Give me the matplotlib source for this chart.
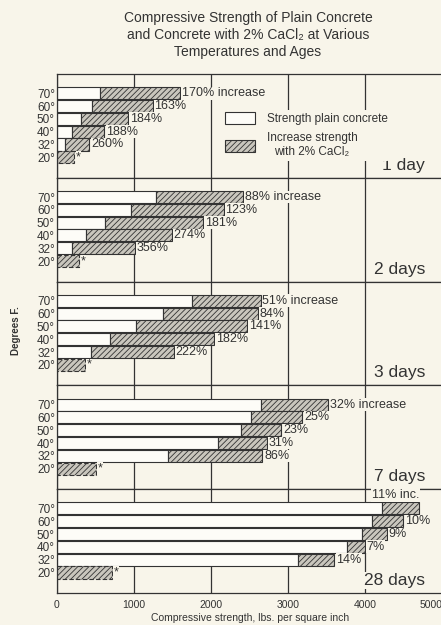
import numpy as np
import matplotlib
matplotlib.use("Agg")
import matplotlib.pyplot as plt
from matplotlib.patches import Patch

plt.rcParams['font.family'] = ['Liberation Sans', 'DejaVu Sans']
plt.rcParams['hatch.linewidth'] = 0.6

# data (lbs per sq inch)
temps = ["70°", "60°", "50°", "40°", "32°", "20°"]
ages = ["1 day", "2 days", "3 days", "7 days", "28 days"]

plain_1 = [560, 450, 310, 200, 105, 0]
total_1 = [1590, 1240, 920, 615, 415, 220]
pct_1 = ["170% increase", "163%", "184%", "188%", "260%", "*"]

plain_2 = [1290, 960, 625, 380, 200, 0]
total_2 = [2410, 2160, 1890, 1490, 1010, 285]
pct_2 = ["88% increase", "123%", "181%", "274%", "356%", "*"]

plain_3 = [1750, 1380, 1025, 690, 440, 0]
total_3 = [2640, 2605, 2460, 2035, 1515, 360]
pct_3 = ["51% increase", "84%", "141%", "182%", "222%", "*"]

plain_7 = [2650, 2520, 2385, 2085, 1435, 0]
total_7 = [3520, 3180, 2905, 2720, 2660, 505]
pct_7 = ["32% increase", "25%", "23%", "31%", "86%", "*"]

plain_28 = [4210, 4080, 3950, 3755, 3125, 0]
total_28 = [4700, 4490, 4275, 3990, 3595, 710]
pct_28 = ["11% inc.", "10%", "9%", "7%", "14%", "*"]

plains = [plain_1, plain_2, plain_3, plain_7, plain_28]
totals = [total_1, total_2, total_3, total_7, total_28]
pcts = [pct_1, pct_2, pct_3, pct_7, pct_28]

bg = '#f8f5ea'
ink = '#333333'
plain_c = '#fdfcf7'
hatch_c = '#c9c6bd'

fig = plt.figure(figsize=(4.41, 6.25), dpi=100, facecolor=bg)
axes = fig.subplots(5, 1, sharex=True, gridspec_kw=dict(hspace=0))
fig.subplots_adjust(left=57 / 441, right=442.5 / 441, top=1 - 74 / 625, bottom=1 - 593 / 625)

y = np.arange(len(temps)) + 1.5
for k, ax in enumerate(axes):
    plain = np.array(plains[k])
    total = np.array(totals[k])
    ax.set_facecolor(bg)
    ax.barh(y, plain, height=0.94, color=plain_c, edgecolor=ink, lw=0.8, zorder=2)
    inc = ax.barh(y, total - plain, left=plain, height=0.94, color=hatch_c,
                  edgecolor=ink, lw=0.8, hatch='//////', zorder=2)
    inc.patches[-1].set_linestyle((0, (4, 2)))

    for i, lab in enumerate(pcts[k]):
        if k == 4 and i == 0:
            ax.text(total[i], y[i] - 1.05, lab, ha='right', va='center', fontsize=9,
                    color=ink, zorder=3, bbox=dict(fc=bg, ec='none', pad=0.5))
        else:
            ax.text(total[i] + 25, y[i], lab, ha='left', va='center', fontsize=9,
                    color=ink, zorder=3, bbox=dict(fc=bg, ec='none', pad=0.3))

    ax.text(0.955, 0.12, ages[k], transform=ax.transAxes, ha='right', va='center',
            fontsize=12.5, color=ink, zorder=3, bbox=dict(fc=bg, ec='none', pad=1))

    ax.set_ylim(8.1, 0)
    ax.set_yticks(y, temps, fontsize=8.5, color=ink)
    ax.set_xlim(0, 5000)
    ax.set_xticks([0, 1000, 2000, 3000, 4000, 5000])
    ax.grid(axis='x', color=ink, lw=0.9)
    ax.set_axisbelow(True)
    ax.tick_params(length=0, pad=1.5)
    ax.tick_params(axis='x', labelsize=7.5, labelcolor=ink, pad=5)
    for s in ax.spines.values():
        s.set_color(ink)
        s.set_linewidth(0.9)

# last tick label sits at the cut-off right edge; keep it inside the picture
axes[-1].get_xticklabels()[-1].set_horizontalalignment('right')

# legend in the first panel
handles = [Patch(facecolor=plain_c, edgecolor=ink, lw=0.8),
           Patch(facecolor=hatch_c, edgecolor=ink, lw=0.8, hatch='//////')]
leg = axes[0].legend(handles, ["Strength plain concrete", "Increase strength\nwith 2% CaCl₂"],
                     loc='upper left', bbox_to_anchor=(0.415, 0.71), fontsize=8.5,
                     handlelength=2.5, handleheight=1.2, handletextpad=1.0,
                     labelspacing=0.6, frameon=True, facecolor=bg, edgecolor='none',
                     framealpha=1, borderpad=0.2)
leg.get_texts()[1].set_multialignment('center')
for t in leg.get_texts():
    t.set_color(ink)

axes[-1].set_xlabel("Compressive strength, lbs. per square inch", fontsize=7.5,
                    color=ink, labelpad=2)
fig.text(16 / 441, 1 - 331 / 625, "Degrees F.", rotation=90, ha='center', va='center',
         fontsize=7, fontweight='bold', color=ink)

title = ["Compressive Strength of Plain Concrete",
         "and Concrete with 2% CaCl₂ at Various",
         "Temperatures and Ages"]
for j, line in enumerate(title):
    fig.text(248 / 441, 1 - (18 + 17 * j) / 625, line, ha='center', va='center',
             fontsize=10, color=ink)

fig.savefig("out.png", dpi=100, facecolor=bg)
